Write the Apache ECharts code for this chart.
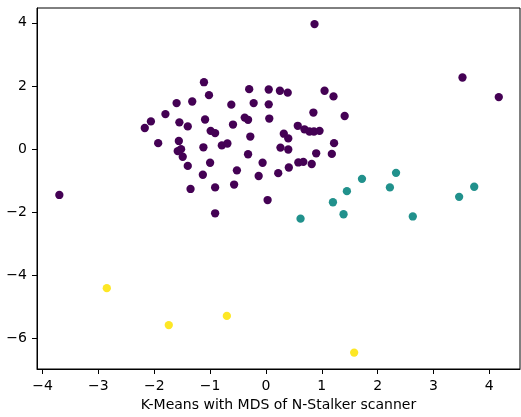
<!DOCTYPE html>
<html>
<head>
<meta charset="utf-8">
<script src="https://cdn.jsdelivr.net/npm/echarts@6/dist/echarts.min.js"></script>
<style>
html,body{margin:0;padding:0;background:#fff;}
#chart{width:521px;height:417px;}
</style>
</head>
<body>
<div id="chart"></div>
<script>
// Cluster 0 (purple)
const cluster0 = [
  [-1.11,2.12],[-1.02,1.71],[-1.60,1.46],[-1.32,1.51],[-1.80,1.11],[-2.06,0.88],[-2.17,0.67],
  [-1.55,0.85],[-1.40,0.72],[-1.09,0.94],[-0.62,1.41],[-0.30,1.90],[-0.22,1.46],[-0.38,1.00],
  [-0.32,0.93],[-0.59,0.78],[-0.99,0.58],[-0.91,0.51],[-0.28,0.40],[-1.93,0.19],[-1.56,0.26],
  [-1.52,0.00],[-1.58,-0.06],[-1.49,-0.24],[-1.40,-0.53],[-1.12,0.06],[-0.79,0.12],[-0.69,0.18],
  [-0.32,-0.16],[-1.00,-0.43],[-0.52,-0.67],[-1.13,-0.81],[-1.35,-1.26],[-0.91,-1.21],[-0.57,-1.12],
  [-0.06,-0.43],[-0.13,-0.85],[0.05,1.89],[0.25,1.85],[0.39,1.79],[1.05,1.85],[1.21,1.67],
  [0.05,1.42],[0.06,0.97],[0.85,1.16],[1.41,1.05],[0.57,0.74],[0.69,0.63],[0.78,0.56],
  [0.86,0.56],[0.96,0.58],[0.32,0.49],[0.40,0.34],[0.26,0.05],[0.40,-0.01],[1.22,0.19],
  [1.18,-0.15],[0.90,-0.13],[0.22,-0.76],[0.41,-0.58],[0.58,-0.42],[0.67,-0.40],[0.82,-0.47],
  [0.03,-1.61],[-3.70,-1.45],[0.87,3.96],[3.52,2.27],[4.17,1.65],[-0.91,-2.03]
];
// Cluster 1 (teal)
const cluster1 = [
  [0.62,-2.20],[1.39,-2.06],[2.63,-2.13],[1.20,-1.68],[3.46,-1.51],
  [3.73,-1.19],[2.33,-0.75],[2.22,-1.21],[1.72,-0.94],[1.45,-1.33]
];
// Cluster 2 (yellow)
const cluster2 = [
  [-2.85,-4.40],[-1.74,-5.57],[-0.70,-5.28],[1.58,-6.44]
];
const xTicks = [-4,-3,-2,-1,0,1,2,3,4];
const yTicks = [-6,-4,-2,0,2,4];
const xLabel = 'K-Means with MDS of N-Stalker scanner';

const colors = ['#440154','#21918c','#fde725'];
const font = 'DejaVu Sans';
const fmt = v => String(v).replace('-', '\u2212');

const chart = echarts.init(document.getElementById('chart'), null, {renderer:'canvas'});
chart.setOption({
  animation: false,
  backgroundColor: '#fff',
  grid: {left: 37, top: 8, right: 1, bottom: 48, show: true, borderColor: '#000', borderWidth: 1, backgroundColor: 'transparent'},
  xAxis: {
    type: 'value', min: -4.1, max: 4.55,
    splitLine: {show: false},
    axisLine: {show: true, onZero: false, lineStyle: {color: '#000', width: 1}},
    axisTick: {show: true, length: 5, customValues: xTicks, lineStyle: {color: '#000', width: 1}},
    axisLabel: {customValues: xTicks, formatter: fmt, color: '#000', fontSize: 14, fontFamily: font, margin: 10},
    name: xLabel, nameLocation: 'middle', nameGap: 27,
    nameTextStyle: {color: '#000', fontSize: 14, fontFamily: font}
  },
  yAxis: {
    type: 'value', min: -6.96, max: 4.47,
    splitLine: {show: false},
    axisLine: {show: true, onZero: false, lineStyle: {color: '#000', width: 1}},
    axisTick: {show: true, length: 5, customValues: yTicks, lineStyle: {color: '#000', width: 1}},
    axisLabel: {customValues: yTicks, formatter: fmt, color: '#000', fontSize: 14, fontFamily: font, margin: 10}
  },
  series: [cluster0, cluster1, cluster2].map((d, i) => ({
    type: 'scatter', data: d, symbol: 'circle', symbolSize: 8.3,
    itemStyle: {color: colors[i], opacity: 1},
    emphasis: {disabled: true}
  }))
});
</script>
</body>
</html>
